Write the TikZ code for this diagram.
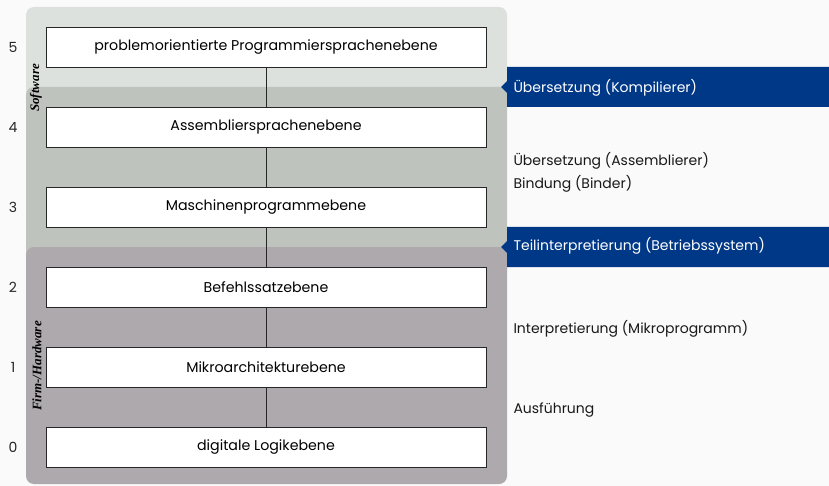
\documentclass[tikz,border=0pt]{standalone}
\usepackage{fontspec}
\setmainfont{Poppins}
\newfontfamily\rotfont{Liberation Serif}
\definecolor{bgc}{RGB}{250,250,250}
\definecolor{swc}{RGB}{221,225,222}
\definecolor{midc}{RGB}{191,195,190}
\definecolor{hwc}{RGB}{173,169,173}
\definecolor{bannerc}{RGB}{0,56,136}
\tikzset{
  lvl/.style={draw=black!85, line width=0.8pt, fill=white, minimum width=440pt, minimum height=40pt, inner sep=0pt, font=\fontsize{14.2}{16}\selectfont},
  conn/.style={draw=black!85, line width=0.8pt},
  num/.style={font=\fontsize{14}{16}\selectfont, text=black!85},
  side/.style={anchor=west, align=left, font=\fontsize{14}{23}\selectfont, text=black!90},
  bantext/.style={anchor=west, font=\fontsize{14}{16}\selectfont, text=white},
  rotlab/.style={rotate=90, font=\rotfont\bfseries\itshape\fontsize{13}{14}\selectfont},
  banner/.style={fill=bannerc}
}
\begin{document}
\begin{tikzpicture}[x=1pt,y=-1pt]
\useasboundingbox (0,0) rectangle (829,486);
\fill[bgc] (0,0) rectangle (829,486);
% panels
\fill[swc, rounded corners=8pt] (26,7) rectangle (507,110);
\fill[midc, rounded corners=8pt] (26,87) rectangle (507,270);
\fill[hwc, rounded corners=8pt] (26,247) rectangle (507,484);
% banners
\fill[banner] (829,67) -- (507,67) -- (507,81) -- (501,87) -- (507,93) -- (507,107) -- (829,107) -- cycle;
\fill[banner] (829,227) -- (507,227) -- (507,241) -- (501,247) -- (507,253) -- (507,267) -- (829,267) -- cycle;
\node[bantext] (b1) at (510,88) {Übersetzung (Kompilierer)};
\node[bantext] (b2) at (510,246) {Teilinterpretierung (Betriebssystem)};
% levels
\node[lvl] (l5) at (266,47) {problemorientierte Programmiersprachenebene};
\node[lvl] (l4) at (266,127) {Assembliersprachenebene};
\node[lvl] (l3) at (266,207) {Maschinenprogrammebene};
\node[lvl] (l2) at (266,287) {Befehlssatzebene};
\node[lvl] (l1) at (266,367) {Mikroarchitekturebene};
\node[lvl] (l0) at (266,447) {digitale Logikebene};
\draw[conn] (l5) -- (l4);
\draw[conn] (l4) -- (l3);
\draw[conn] (l3) -- (l2);
\draw[conn] (l2) -- (l1);
\draw[conn] (l1) -- (l0);
% numbers
\node[num] (n5) at (13,47) {5};
\node[num] (n4) at (13,127) {4};
\node[num] (n3) at (13,207) {3};
\node[num] (n2) at (13,287) {2};
\node[num] (n1) at (13,367) {1};
\node[num] (n0) at (13,447) {0};
% side texts
\node[side] (s1) at (510,172) {Übersetzung (Assemblierer)\\Bindung (Binder)};
\node[side] (s2) at (510,329) {Interpretierung (Mikroprogramm)};
\node[side] (s3) at (510,410) {Ausführung};
% rotated labels
\node[rotlab] (sw) at (36,88) {Software};
\node[rotlab] (hw) at (37,366) {Firm-/Hardware};
\end{tikzpicture}
\end{document}
